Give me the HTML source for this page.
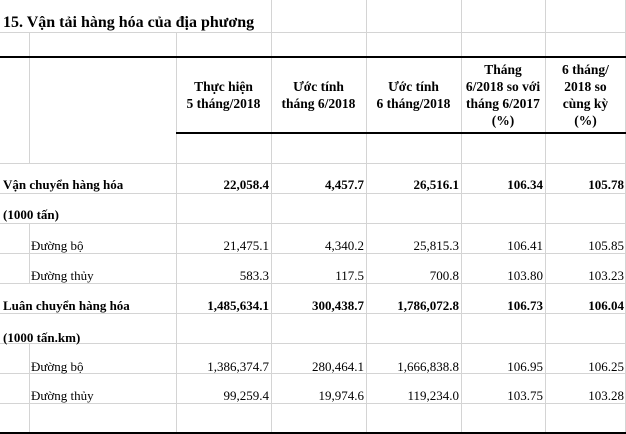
<!DOCTYPE html>
<html><head><meta charset="utf-8"><style>
body{margin:0;background:#fff}
#c{position:relative;width:626px;height:434px;overflow:hidden;font-family:"Liberation Serif",serif;font-size:13px;color:#000}
.v{position:absolute;width:1px;background:#d4d4d4}
.h{position:absolute;height:1px;background:#d4d4d4;left:0;width:626px}
.k{position:absolute;background:#000}
.t{position:absolute;white-space:nowrap;line-height:15px}
.r{text-align:right}
.b{font-weight:bold}
.hd{position:absolute;text-align:center;font-weight:bold;line-height:17px;font-size:13.5px;display:flex;align-items:center;justify-content:center}
</style></head><body><div id="c">
<div class="h" style="top:32px"></div>
<div class="h" style="top:163px"></div>
<div class="h" style="top:193px"></div>
<div class="h" style="top:223px"></div>
<div class="h" style="top:253px"></div>
<div class="h" style="top:283px"></div>
<div class="h" style="top:313px"></div>
<div class="h" style="top:343px"></div>
<div class="h" style="top:373px"></div>
<div class="h" style="top:403px"></div>
<div class="v" style="left:176px;top:0;height:434px"></div>
<div class="v" style="left:271px;top:0;height:434px"></div>
<div class="v" style="left:366px;top:0;height:434px"></div>
<div class="v" style="left:461px;top:0;height:434px"></div>
<div class="v" style="left:545px;top:0;height:434px"></div>
<div class="v" style="left:625px;top:0;height:434px"></div>
<div class="v" style="left:29px;top:33px;height:130px"></div>
<div class="v" style="left:29px;top:223px;height:60px"></div>
<div class="v" style="left:29px;top:343px;height:91px"></div>
<div style="position:absolute;left:0;top:0;width:270px;height:32px;background:#fff"></div>
<div class="v" style="left:271px;top:0;height:33px"></div>
<div class="k" style="left:0;top:56px;width:626px;height:2px"></div>
<div class="k" style="left:176px;top:132px;width:450px;height:2px"></div>
<div class="k" style="left:0;top:432px;width:626px;height:2px"></div>
<div class="t b" style="left:3px;top:14px;font-size:16px;line-height:18px">15. Vận tải hàng hóa của địa phương</div>
<div class="hd" style="left:176px;top:58px;width:95px;height:74px">Thực hiện<br>5 tháng/2018</div>
<div class="hd" style="left:271px;top:58px;width:95px;height:74px">Ước tính<br>tháng 6/2018</div>
<div class="hd" style="left:366px;top:58px;width:95px;height:74px">Ước tính<br>6 tháng/2018</div>
<div class="hd" style="left:461px;top:58px;width:84px;height:74px">Tháng<br>6/2018 so với<br>tháng 6/2017<br>(%)</div>
<div class="hd" style="left:545px;top:58px;width:81px;height:74px">6 tháng/<br>2018 so<br>cùng kỳ<br>(%)</div>
<div class="t b" style="left:3px;top:177px">Vận chuyển hàng hóa</div>
<div class="t b r" style="right:357px;top:177px">22,058.4</div>
<div class="t b r" style="right:262px;top:177px">4,457.7</div>
<div class="t b r" style="right:167px;top:177px">26,516.1</div>
<div class="t b r" style="right:83px;top:177px">106.34</div>
<div class="t b r" style="right:2px;top:177px">105.78</div>
<div class="t b" style="left:3px;top:207px">(1000 tấn)</div>
<div class="t" style="left:31px;top:238px">Đường bộ</div>
<div class="t r" style="right:357px;top:238px">21,475.1</div>
<div class="t r" style="right:262px;top:238px">4,340.2</div>
<div class="t r" style="right:167px;top:238px">25,815.3</div>
<div class="t r" style="right:83px;top:238px">106.41</div>
<div class="t r" style="right:2px;top:238px">105.85</div>
<div class="t" style="left:31px;top:268px">Đường thủy</div>
<div class="t r" style="right:357px;top:268px">583.3</div>
<div class="t r" style="right:262px;top:268px">117.5</div>
<div class="t r" style="right:167px;top:268px">700.8</div>
<div class="t r" style="right:83px;top:268px">103.80</div>
<div class="t r" style="right:2px;top:268px">103.23</div>
<div class="t b" style="left:3px;top:298px">Luân chuyển hàng hóa</div>
<div class="t b r" style="right:357px;top:298px">1,485,634.1</div>
<div class="t b r" style="right:262px;top:298px">300,438.7</div>
<div class="t b r" style="right:167px;top:298px">1,786,072.8</div>
<div class="t b r" style="right:83px;top:298px">106.73</div>
<div class="t b r" style="right:2px;top:298px">106.04</div>
<div class="t b" style="left:3px;top:330px">(1000 tấn.km)</div>
<div class="t" style="left:31px;top:359px">Đường bộ</div>
<div class="t r" style="right:357px;top:359px">1,386,374.7</div>
<div class="t r" style="right:262px;top:359px">280,464.1</div>
<div class="t r" style="right:167px;top:359px">1,666,838.8</div>
<div class="t r" style="right:83px;top:359px">106.95</div>
<div class="t r" style="right:2px;top:359px">106.25</div>
<div class="t" style="left:31px;top:388px">Đường thủy</div>
<div class="t r" style="right:357px;top:388px">99,259.4</div>
<div class="t r" style="right:262px;top:388px">19,974.6</div>
<div class="t r" style="right:167px;top:388px">119,234.0</div>
<div class="t r" style="right:83px;top:388px">103.75</div>
<div class="t r" style="right:2px;top:388px">103.28</div>
</div></body></html>
